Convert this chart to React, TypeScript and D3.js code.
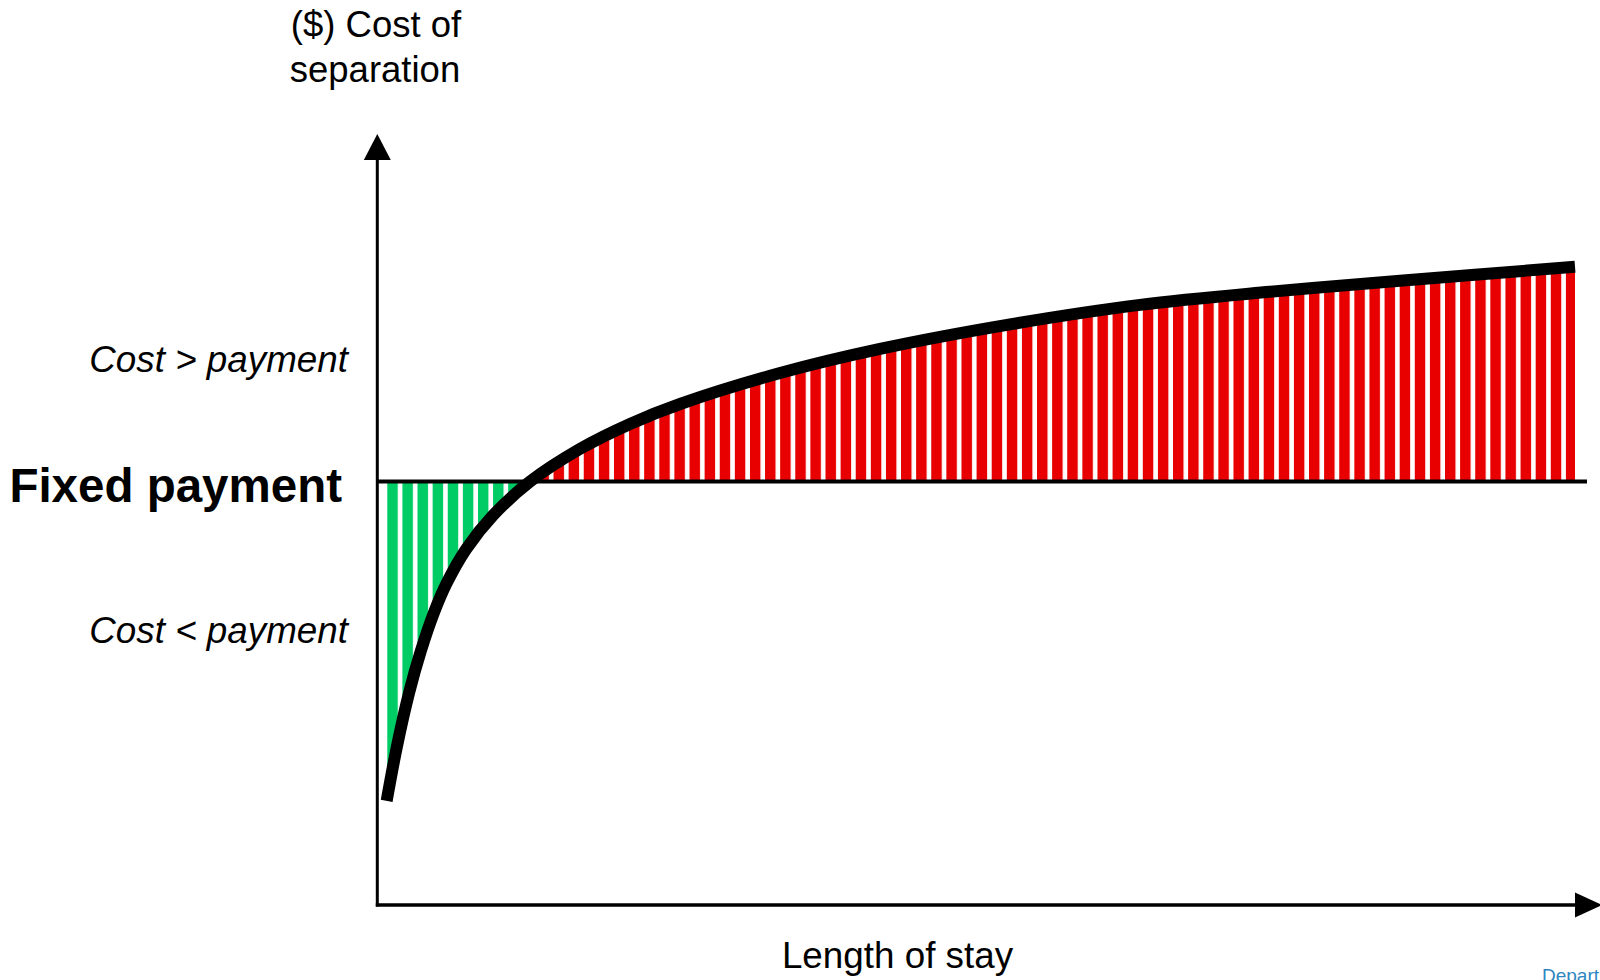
import React from "react";
import * as d3 from "d3";

// Length of stay (arbitrary units) and cost of separation (arbitrary units)
const lengthOfStay = [0.78, 1.64, 2.64, 3.62, 4.73, 5.78, 7.39, 9.64, 12.73, 16.89, 21.06, 25.23, 33.56, 41.89, 52.73, 63.56, 74.39, 85.23, 99.81];
const costOfSeparation = [24.6, 37.5, 50.0, 59.9, 69.1, 76.0, 84.0, 92.0, 100, 107.7, 113.6, 118.3, 125.6, 131.3, 137.1, 141.7, 144.8, 147.4, 150.7];
const fixedPayment = 100;

const yAxisTitle = ["($) Cost of", "separation"];
const xAxisTitle = "Length of stay";
const labelAbove = "Cost > payment";
const labelPayment = "Fixed payment";
const labelBelow = "Cost < payment";
const footerText = "Department";

const W = 1600;
const H = 980;
const FONT = "'Liberation Sans', Arial, Helvetica, sans-serif";

export default function App() {
  const x = d3.scaleLinear().domain([0, 100]).range([377.3, 1577.3]);
  const y = d3.scaleLinear().domain([0, 200]).range([905, 58]);
  const data = lengthOfStay.map((l, i) => ({ l, c: costOfSeparation[i] }));
  const curve = d3.curveCatmullRom.alpha(0.5);

  const line = d3
    .line<{ l: number; c: number }>()
    .x((d) => x(d.l))
    .y((d) => y(d.c))
    .curve(curve);
  const area = d3
    .area<{ l: number; c: number }>()
    .x((d) => x(d.l))
    .y0(y(fixedPayment))
    .y1((d) => y(d.c))
    .curve(curve);

  const yPay = y(fixedPayment);
  const x0 = x(0);
  const yBase = y(0);
  const stripeStart = 387.3;
  const pitch = 15.11;
  const barW = 10.5;

  return (
    <div style={{ position: "absolute", left: 0, top: 0, width: W, height: H, overflow: "hidden", background: "#fff" }}>
      <svg width={W} height={H} style={{ display: "block" }}>
        <defs>
          <pattern id="redStripes" patternUnits="userSpaceOnUse" x={stripeStart} y={0} width={pitch} height={H}>
            <rect x={0} y={0} width={barW} height={H} fill="#E80000" />
          </pattern>
          <pattern id="greenStripes" patternUnits="userSpaceOnUse" x={stripeStart} y={0} width={pitch} height={H}>
            <rect x={0} y={0} width={barW} height={H} fill="#00CC66" />
          </pattern>
          <clipPath id="above">
            <rect x={0} y={0} width={W} height={yPay} />
          </clipPath>
          <clipPath id="below">
            <rect x={0} y={yPay} width={W} height={H - yPay} />
          </clipPath>
        </defs>

        {/* shaded bars */}
        <path d={area(data) || ""} fill="url(#redStripes)" clipPath="url(#above)" />
        <path d={area(data) || ""} fill="url(#greenStripes)" clipPath="url(#below)" />

        {/* fixed payment line */}
        <line x1={x0} x2={1587} y1={yPay} y2={yPay} stroke="#000" strokeWidth={4} />

        {/* axes */}
        <line x1={x0} x2={x0} y1={yBase + 1.5} y2={158} stroke="#000" strokeWidth={3} />
        <path d={`M${x0},134 L${x0 + 13.5},160 L${x0 - 13.5},160 Z`} fill="#000" />
        <line x1={x0 - 1.5} x2={1577} y1={yBase} y2={yBase} stroke="#000" strokeWidth={3.4} />
        <path d={`M1602,${yBase} L1575,${yBase - 12.5} L1575,${yBase + 12.5} Z`} fill="#000" />

        {/* cost curve */}
        <path d={line(data) || ""} fill="none" stroke="#000" strokeWidth={12} strokeLinecap="butt" strokeLinejoin="round" />

        {/* texts */}
        <text x={376} y={37} textAnchor="middle" fontFamily={FONT} fontSize={36.5} fill="#000">
          {yAxisTitle[0]}
        </text>
        <text x={375} y={81.7} textAnchor="middle" fontFamily={FONT} fontSize={36.5} fill="#000">
          {yAxisTitle[1]}
        </text>
        <text x={348} y={371.7} textAnchor="end" fontFamily={FONT} fontSize={36.8} fontStyle="italic" fill="#000">
          {labelAbove}
        </text>
        <text x={342} y={501.5} textAnchor="end" fontFamily={FONT} fontSize={47.5} fontWeight="bold" fill="#000">
          {labelPayment}
        </text>
        <text x={348} y={643.3} textAnchor="end" fontFamily={FONT} fontSize={36.8} fontStyle="italic" fill="#000">
          {labelBelow}
        </text>
        <text x={897.5} y={967.7} textAnchor="middle" fontFamily={FONT} fontSize={36.8} fill="#000">
          {xAxisTitle}
        </text>
        <text x={1542} y={981.5} fontFamily={FONT} fontSize={19} fill="#2E86C1">
          {footerText}
        </text>
      </svg>
    </div>
  );
}
